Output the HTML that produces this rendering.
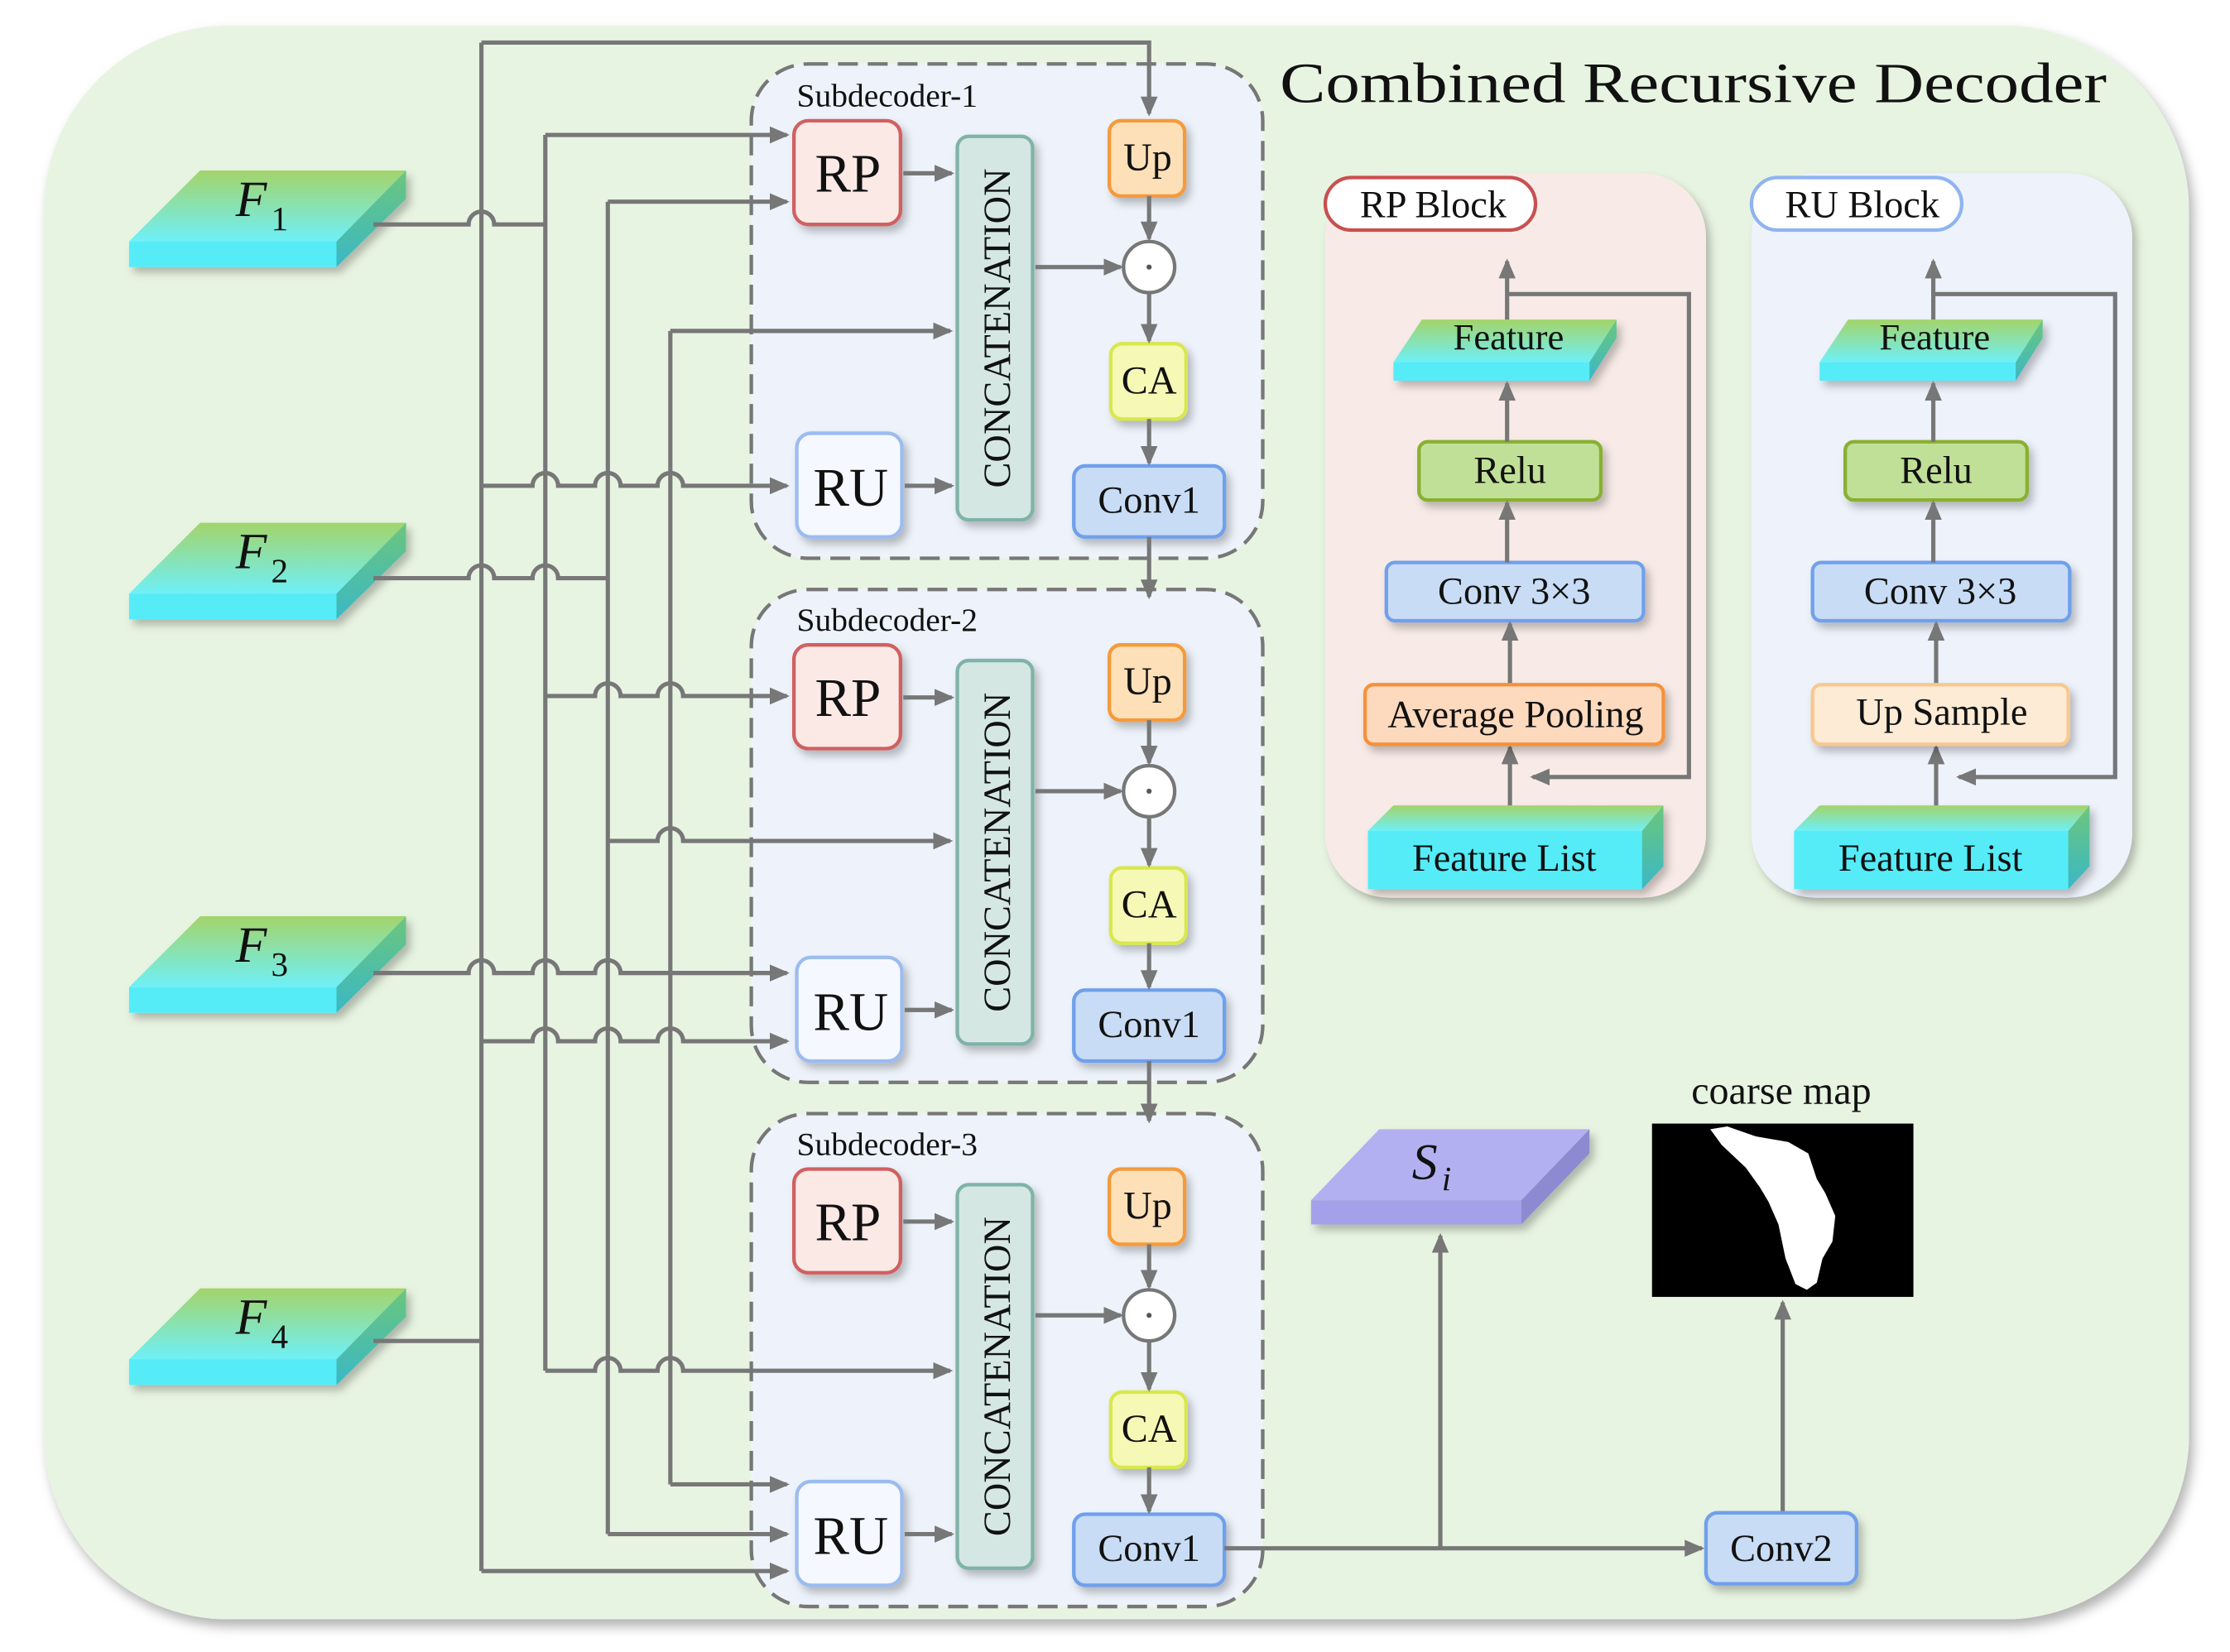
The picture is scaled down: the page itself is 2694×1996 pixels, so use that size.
<!DOCTYPE html>
<html><head><meta charset="utf-8"><style>
html,body{margin:0;padding:0;background:#fff;}
svg{display:block;}
text{font-family:"Liberation Serif",serif;fill:#111;}
</style></head><body>
<svg width="2694" height="1996" viewBox="0 0 1568 1163" xmlns="http://www.w3.org/2000/svg">
<defs>
<marker id="ar" markerWidth="14" markerHeight="12" refX="12" refY="6" orient="auto" markerUnits="userSpaceOnUse">
<path d="M0,0 L14,6 L0,12 Z" fill="#777"/>
</marker>
<filter id="sh" x="-20%" y="-20%" width="150%" height="150%">
<feDropShadow dx="3" dy="4" stdDeviation="3" flood-color="#000" flood-opacity="0.25"/>
</filter>
<filter id="bsh" x="-5%" y="-5%" width="110%" height="110%">
<feDropShadow dx="3" dy="5" stdDeviation="4" flood-color="#000" flood-opacity="0.3"/>
</filter>
<linearGradient id="gF" x1="0" y1="0" x2="0" y2="1">
<stop offset="0" stop-color="#a3d46a"/><stop offset="1" stop-color="#6ef0f8"/>
</linearGradient>
<linearGradient id="gS" x1="0" y1="0" x2="0" y2="1">
<stop offset="0" stop-color="#6cc67c"/><stop offset="1" stop-color="#3ab8c6"/>
</linearGradient>
</defs>

<!-- main background -->
<rect x="30" y="18" width="1510" height="1122" rx="130" fill="#e8f4e2" filter="url(#bsh)"/>
<text x="900" y="72" font-size="40" textLength="582" lengthAdjust="spacingAndGlyphs">Combined Recursive Decoder</text>

<!-- F blocks -->
<g id="F1" filter="url(#sh)">
<polygon points="90,170 140,120 285,120 236,170" fill="url(#gF)"/>
<rect x="90" y="170" width="146" height="18" fill="#55ecf8"/>
<polygon points="236,170 285,120 285,140 236,188" fill="url(#gS)"/>
</g>
<text x="165" y="152" font-size="36" font-style="italic">F</text><text x="190" y="162" font-size="24">1</text>
<g filter="url(#sh)" transform="translate(0,248)">
<polygon points="90,170 140,120 285,120 236,170" fill="url(#gF)"/>
<rect x="90" y="170" width="146" height="18" fill="#55ecf8"/>
<polygon points="236,170 285,120 285,140 236,188" fill="url(#gS)"/>
</g>
<text x="165" y="400" font-size="36" font-style="italic">F</text><text x="190" y="410" font-size="24">2</text>
<g filter="url(#sh)" transform="translate(0,525)">
<polygon points="90,170 140,120 285,120 236,170" fill="url(#gF)"/>
<rect x="90" y="170" width="146" height="18" fill="#55ecf8"/>
<polygon points="236,170 285,120 285,140 236,188" fill="url(#gS)"/>
</g>
<text x="165" y="677" font-size="36" font-style="italic">F</text><text x="190" y="687" font-size="24">3</text>
<g filter="url(#sh)" transform="translate(0,787)">
<polygon points="90,170 140,120 285,120 236,170" fill="url(#gF)"/>
<rect x="90" y="170" width="146" height="18" fill="#55ecf8"/>
<polygon points="236,170 285,120 285,140 236,188" fill="url(#gS)"/>
</g>
<text x="165" y="939" font-size="36" font-style="italic">F</text><text x="190" y="949" font-size="24">4</text>

<!-- subdecoder boxes -->
<g fill="#eef3fb" stroke="#777" stroke-width="2.5" stroke-dasharray="14,7">
<rect x="528" y="45" width="360" height="348" rx="40"/>
<rect x="528" y="415" width="360" height="347" rx="40"/>
<rect x="528" y="784" width="360" height="347" rx="40"/>
</g>

<!-- subdecoder contents -->
<g id="sd">
<text x="560" y="75" font-size="23">Subdecoder-1</text>
<rect x="558" y="85" width="75" height="73" rx="10" fill="#fbe9e6" stroke="#d06060" stroke-width="2.5" filter="url(#sh)"/>
<text x="596" y="135" font-size="38" text-anchor="middle">RP</text>
<rect x="560" y="305" width="74" height="73" rx="10" fill="#f5f8ff" stroke="#9bbcf0" stroke-width="2.5" filter="url(#sh)"/>
<text x="598" y="356" font-size="38" text-anchor="middle">RU</text>
<rect x="673" y="96" width="53" height="270" rx="8" fill="#d5e7e2" stroke="#7fb3a7" stroke-width="2.5" filter="url(#sh)"/>
<text transform="translate(710,231) rotate(-90)" font-size="27" text-anchor="middle">CONCATENATION</text>
<rect x="780" y="85" width="53" height="53" rx="8" fill="#fde0b8" stroke="#f59a3a" stroke-width="2.5" filter="url(#sh)"/>
<text x="807" y="120" font-size="28" text-anchor="middle">Up</text>
<circle cx="808" cy="188" r="18" fill="#fff" stroke="#777" stroke-width="2.5"/>
<circle cx="808" cy="188" r="1.8" fill="#555"/>
<rect x="781" y="242" width="53" height="53" rx="8" fill="#f6f9b6" stroke="#d8e84e" stroke-width="2.5" filter="url(#sh)"/>
<text x="808" y="277" font-size="28" text-anchor="middle">CA</text>
<rect x="755" y="328" width="106" height="50" rx="8" fill="#c8dcf5" stroke="#6fa0ec" stroke-width="2.5" filter="url(#sh)"/>
<text x="808" y="361" font-size="27" text-anchor="middle">Conv1</text>
<g stroke="#777" stroke-width="3" fill="none" marker-end="url(#ar)">
<path d="M635 122 L669 122"/>
<path d="M636 342 L669 342"/>
<path d="M728 188 L788 188"/>
<path d="M808 138 L808 168"/>
<path d="M808 206 L808 240"/>
<path d="M808 295 L808 326"/>
</g>
</g>
<g transform="translate(0,369)">
<rect x="558" y="85" width="75" height="73" rx="10" fill="#fbe9e6" stroke="#d06060" stroke-width="2.5" filter="url(#sh)"/>
<text x="596" y="135" font-size="38" text-anchor="middle">RP</text>
<rect x="560" y="305" width="74" height="73" rx="10" fill="#f5f8ff" stroke="#9bbcf0" stroke-width="2.5" filter="url(#sh)"/>
<text x="598" y="356" font-size="38" text-anchor="middle">RU</text>
<rect x="673" y="96" width="53" height="270" rx="8" fill="#d5e7e2" stroke="#7fb3a7" stroke-width="2.5" filter="url(#sh)"/>
<text transform="translate(710,231) rotate(-90)" font-size="27" text-anchor="middle">CONCATENATION</text>
<rect x="780" y="85" width="53" height="53" rx="8" fill="#fde0b8" stroke="#f59a3a" stroke-width="2.5" filter="url(#sh)"/>
<text x="807" y="120" font-size="28" text-anchor="middle">Up</text>
<circle cx="808" cy="188" r="18" fill="#fff" stroke="#777" stroke-width="2.5"/>
<circle cx="808" cy="188" r="1.8" fill="#555"/>
<rect x="781" y="242" width="53" height="53" rx="8" fill="#f6f9b6" stroke="#d8e84e" stroke-width="2.5" filter="url(#sh)"/>
<text x="808" y="277" font-size="28" text-anchor="middle">CA</text>
<rect x="755" y="328" width="106" height="50" rx="8" fill="#c8dcf5" stroke="#6fa0ec" stroke-width="2.5" filter="url(#sh)"/>
<text x="808" y="361" font-size="27" text-anchor="middle">Conv1</text>
<g stroke="#777" stroke-width="3" fill="none" marker-end="url(#ar)">
<path d="M635 122 L669 122"/><path d="M636 342 L669 342"/><path d="M728 188 L788 188"/>
<path d="M808 138 L808 168"/><path d="M808 206 L808 240"/><path d="M808 295 L808 326"/>
</g>
</g>
<text x="560" y="444" font-size="23">Subdecoder-2</text>
<g transform="translate(0,738)">
<rect x="558" y="85" width="75" height="73" rx="10" fill="#fbe9e6" stroke="#d06060" stroke-width="2.5" filter="url(#sh)"/>
<text x="596" y="135" font-size="38" text-anchor="middle">RP</text>
<rect x="560" y="305" width="74" height="73" rx="10" fill="#f5f8ff" stroke="#9bbcf0" stroke-width="2.5" filter="url(#sh)"/>
<text x="598" y="356" font-size="38" text-anchor="middle">RU</text>
<rect x="673" y="96" width="53" height="270" rx="8" fill="#d5e7e2" stroke="#7fb3a7" stroke-width="2.5" filter="url(#sh)"/>
<text transform="translate(710,231) rotate(-90)" font-size="27" text-anchor="middle">CONCATENATION</text>
<rect x="780" y="85" width="53" height="53" rx="8" fill="#fde0b8" stroke="#f59a3a" stroke-width="2.5" filter="url(#sh)"/>
<text x="807" y="120" font-size="28" text-anchor="middle">Up</text>
<circle cx="808" cy="188" r="18" fill="#fff" stroke="#777" stroke-width="2.5"/>
<circle cx="808" cy="188" r="1.8" fill="#555"/>
<rect x="781" y="242" width="53" height="53" rx="8" fill="#f6f9b6" stroke="#d8e84e" stroke-width="2.5" filter="url(#sh)"/>
<text x="808" y="277" font-size="28" text-anchor="middle">CA</text>
<rect x="755" y="328" width="106" height="50" rx="8" fill="#c8dcf5" stroke="#6fa0ec" stroke-width="2.5" filter="url(#sh)"/>
<text x="808" y="361" font-size="27" text-anchor="middle">Conv1</text>
<g stroke="#777" stroke-width="3" fill="none" marker-end="url(#ar)">
<path d="M635 122 L669 122"/><path d="M636 342 L669 342"/><path d="M728 188 L788 188"/>
<path d="M808 138 L808 168"/><path d="M808 206 L808 240"/><path d="M808 295 L808 326"/>
</g>
</g>
<text x="560" y="813" font-size="23">Subdecoder-3</text>

<!-- wires -->
<g stroke="#777" stroke-width="3" fill="none">
<path d="M262 158 L329 158 A9 9 0 0 1 347 158 L383 158"/>
<path d="M383 95 L383 965"/>
<path d="M262 407 L329 407 A9 9 0 0 1 347 407 L374 407 A9 9 0 0 1 392 407 L427 407"/>
<path d="M427 142 L427 1080"/>
<path d="M471 233 L471 1045"/>
<path d="M262 944 L338 944"/>
<path d="M338 30 L338 1106"/>
<g marker-end="url(#ar)">
<path d="M383 95 L553 95"/>
<path d="M383 490 L418 490 A9 9 0 0 1 436 490 L462 490 A9 9 0 0 1 480 490 L553 490"/>
<path d="M383 965 L418 965 A9 9 0 0 1 436 965 L462 965 A9 9 0 0 1 480 965 L668 965"/>
<path d="M427 142 L553 142"/>
<path d="M427 592 L462 592 A9 9 0 0 1 480 592 L668 592"/>
<path d="M427 1080 L553 1080"/>
<path d="M262 685 L329 685 A9 9 0 0 1 347 685 L374 685 A9 9 0 0 1 392 685 L418 685 A9 9 0 0 1 436 685 L553 685"/>
<path d="M471 233 L668 233"/>
<path d="M471 1045 L553 1045"/>
<path d="M338 30 L808 30 L808 80"/>
<path d="M338 342 L374 342 A9 9 0 0 1 392 342 L418 342 A9 9 0 0 1 436 342 L462 342 A9 9 0 0 1 480 342 L553 342"/>
<path d="M338 733 L374 733 A9 9 0 0 1 392 733 L418 733 A9 9 0 0 1 436 733 L462 733 A9 9 0 0 1 480 733 L553 733"/>
<path d="M338 1106 L553 1106"/>
<path d="M808 378 L808 420"/>
<path d="M808 747 L808 789"/>
<path d="M861 1090 L1197 1090"/>
<path d="M1013 1090 L1013 870"/>
<path d="M1254 1065 L1254 917"/>
</g>
</g>

<!-- Si -->
<g filter="url(#sh)">
<polygon points="922,845 970,795 1118,795 1070,845" fill="#b2b0f0"/>
<rect x="922" y="845" width="148" height="17" fill="#a4a0ea"/>
<polygon points="1070,845 1118,795 1118,812 1070,862" fill="#8e8ad2"/>
</g>
<text x="993" y="830" font-size="36" font-style="italic">S</text><text x="1014" y="838" font-size="24" font-style="italic">i</text>

<!-- coarse map -->
<text x="1253" y="777" font-size="28" text-anchor="middle">coarse map</text>
<rect x="1162" y="791" width="184" height="122" fill="#000"/>
<path d="M1203 795 L1215 793 L1235 800 L1258 804 L1272 812 L1278 830 L1284 840 L1291 856 L1289 874 L1282 886 L1278 903 L1271 908 L1263 904 L1256 886 L1251 862 L1244 846 L1238 836 L1228 822 L1211 806 Z" fill="#fff"/>

<!-- Conv2 -->
<rect x="1200" y="1065" width="106" height="50" rx="8" fill="#c8dcf5" stroke="#6fa0ec" stroke-width="2.5" filter="url(#sh)"/>
<text x="1253" y="1099" font-size="27" text-anchor="middle">Conv2</text>

<!-- RP Block -->
<rect x="932" y="122" width="268" height="510" rx="45" fill="#f8ebe7" filter="url(#sh)"/>
<rect x="932" y="125" width="148" height="37" rx="18.5" fill="#fff" stroke="#c85050" stroke-width="2.5"/>
<text x="1008" y="153" font-size="27" text-anchor="middle">RP Block</text>
<!-- RU Block -->
<rect x="1232" y="122" width="268" height="510" rx="45" fill="#eef2fb" filter="url(#sh)"/>
<rect x="1232" y="125" width="148" height="37" rx="18.5" fill="#fff" stroke="#90b4f0" stroke-width="2.5"/>
<text x="1310" y="153" font-size="27" text-anchor="middle">RU Block</text>

<g id="blk">
<g filter="url(#sh)">
<polygon points="980,255 1000,225 1137,225 1118,255" fill="url(#gF)"/>
<rect x="980" y="255" width="138" height="13" fill="#55ecf8"/>
<polygon points="1118,255 1137,225 1137,238 1118,268" fill="url(#gS)"/>
</g>
<text x="1061" y="246" font-size="26" text-anchor="middle">Feature</text>
<rect x="998" y="311" width="128" height="41" rx="6" fill="#c0e098" stroke="#88b030" stroke-width="2.5" filter="url(#sh)"/>
<text x="1062" y="340" font-size="27" text-anchor="middle">Relu</text>
<rect x="975" y="396" width="181" height="41" rx="6" fill="#c8dcf5" stroke="#6fa0ec" stroke-width="2.5" filter="url(#sh)"/>
<text x="1065" y="425" font-size="27" text-anchor="middle">Conv 3×3</text>
<g filter="url(#sh)">
<polygon points="962,585 980,567 1170,567 1155,585" fill="url(#gF)"/>
<rect x="962" y="585" width="193" height="41" fill="#55ecf8"/>
<polygon points="1155,585 1170,567 1170,610 1155,626" fill="url(#gS)"/>
</g>
<text x="1058" y="613" font-size="27" text-anchor="middle">Feature List</text>
<g stroke="#777" stroke-width="3" fill="none">
<path d="M1060 207 L1188 207 L1188 547 L1078 547" marker-end="url(#ar)"/>
<g marker-end="url(#ar)">
<path d="M1062 567 L1062 526"/>
<path d="M1062 482 L1062 439"/>
<path d="M1060 396 L1060 354"/>
<path d="M1060 311 L1060 270"/>
<path d="M1060 225 L1060 184"/>
</g>
</g>
</g>
<rect x="960" y="482" width="210" height="42" rx="6" fill="#fdd9bd" stroke="#f5913a" stroke-width="2.5" filter="url(#sh)"/>
<text x="1066" y="512" font-size="27" text-anchor="middle">Average Pooling</text>

<g transform="translate(300,0)">
<g filter="url(#sh)">
<polygon points="980,255 1000,225 1137,225 1118,255" fill="url(#gF)"/>
<rect x="980" y="255" width="138" height="13" fill="#55ecf8"/>
<polygon points="1118,255 1137,225 1137,238 1118,268" fill="url(#gS)"/>
</g>
<text x="1061" y="246" font-size="26" text-anchor="middle">Feature</text>
<rect x="998" y="311" width="128" height="41" rx="6" fill="#c0e098" stroke="#88b030" stroke-width="2.5" filter="url(#sh)"/>
<text x="1062" y="340" font-size="27" text-anchor="middle">Relu</text>
<rect x="975" y="396" width="181" height="41" rx="6" fill="#c8dcf5" stroke="#6fa0ec" stroke-width="2.5" filter="url(#sh)"/>
<text x="1065" y="425" font-size="27" text-anchor="middle">Conv 3×3</text>
<g filter="url(#sh)">
<polygon points="962,585 980,567 1170,567 1155,585" fill="url(#gF)"/>
<rect x="962" y="585" width="193" height="41" fill="#55ecf8"/>
<polygon points="1155,585 1170,567 1170,610 1155,626" fill="url(#gS)"/>
</g>
<text x="1058" y="613" font-size="27" text-anchor="middle">Feature List</text>
<g stroke="#777" stroke-width="3" fill="none">
<path d="M1060 207 L1188 207 L1188 547 L1078 547" marker-end="url(#ar)"/>
<g marker-end="url(#ar)">
<path d="M1062 567 L1062 526"/>
<path d="M1062 482 L1062 439"/>
<path d="M1060 396 L1060 354"/>
<path d="M1060 311 L1060 270"/>
<path d="M1060 225 L1060 184"/>
</g>
</g>
<rect x="975" y="482" width="180" height="42" rx="6" fill="#fdebd5" stroke="#f8c890" stroke-width="2.5" filter="url(#sh)"/>
<text x="1066" y="510" font-size="27" text-anchor="middle">Up Sample</text>
</g>
</svg>
</body></html>
